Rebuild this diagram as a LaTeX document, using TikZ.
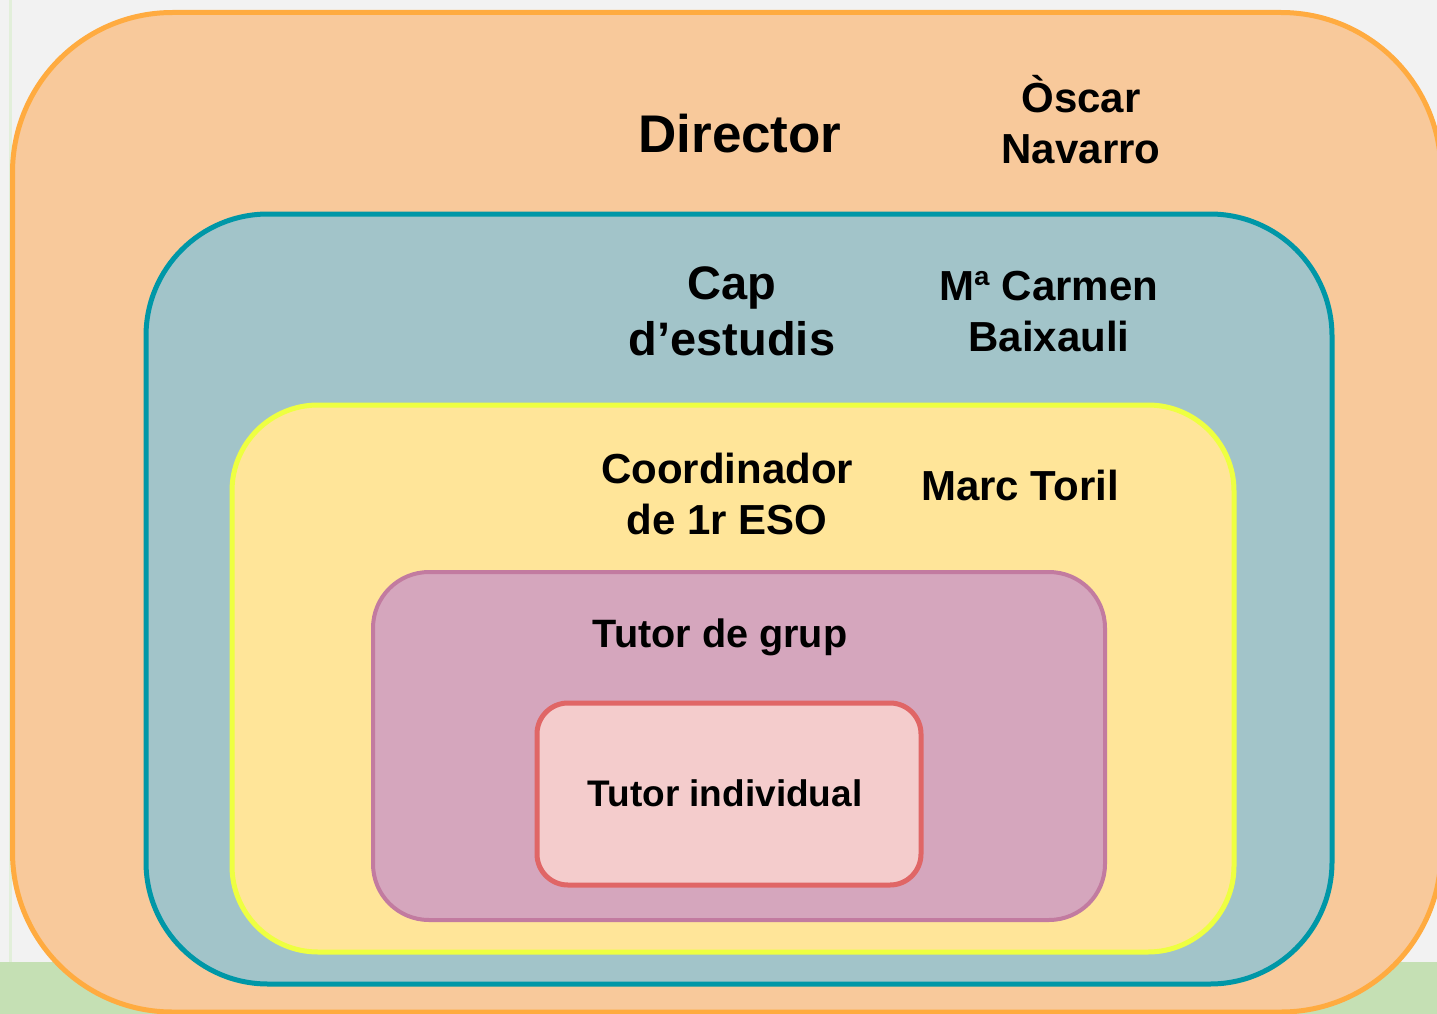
\documentclass[tikz,border=0pt]{standalone}
\usepackage{fontspec}
\setmainfont{Liberation Sans}
\usetikzlibrary{positioning}

\definecolor{fons}{HTML}{F2F2F2}
\definecolor{gespa}{HTML}{C5E0B4}
\definecolor{gespavora}{HTML}{E2EFDA}
\definecolor{taronja}{HTML}{F8C99B}
\definecolor{taronjavora}{HTML}{FFAB40}
\definecolor{blau}{HTML}{A2C4C9}
\definecolor{blauvora}{HTML}{0097A7}
\definecolor{groc}{HTML}{FFE599}
\definecolor{grocvora}{HTML}{EEFF41}
\definecolor{lila}{HTML}{D5A6BD}
\definecolor{lilavora}{HTML}{C27BA0}
\definecolor{rosa}{HTML}{F4CCCC}
\definecolor{rosavora}{HTML}{E06666}

\tikzset{
	nivell/.style={line width=5pt},
	etiq/.style={align=center, inner sep=0pt, font=\bfseries\fontsize{42}{51}\selectfont}
}

\begin{document}
\begin{tikzpicture}[x=1pt,y=-1pt]
	\useasboundingbox (0,0) rectangle (1437,1014);
	\clip (0,0) rectangle (1437,1014);
	\fill[fons] (0,0) rectangle (1437,1014);
	\fill[gespa] (0,962) rectangle (1437,1014);
	\draw[gespavora, line width=3pt] (10,0) -- (10,962);
	% caixes
	\draw[nivell, draw=taronjavora, fill=taronja, rounded corners=160pt] (12.5,12.5) rectangle (1441,1012);
	\draw[nivell, draw=blauvora, fill=blau, rounded corners=122pt] (146,214) rectangle (1332,984);
	\draw[nivell, draw=grocvora, fill=groc, rounded corners=86pt] (232,405) rectangle (1234,952);
	\draw[nivell, line width=4pt, draw=lilavora, fill=lila, rounded corners=56pt] (373,572) rectangle (1105,920);
	\draw[nivell, draw=rosavora, fill=rosa, rounded corners=31pt] (537,703) rectangle (921,885);
	% textos
	\node[etiq, font=\bfseries\fontsize{53}{60}\selectfont] (director) at (740,134) {Director};
	\node[etiq] (oscar) at (1081,120) {Òscar\\Navarro};
	\node[etiq, font=\bfseries\fontsize{47}{56}\selectfont] (cap) at (732,311) {Cap\\d’estudis};
	\node[etiq] (carmen) at (1049,312) {Mª Carmen\\Baixauli};
	\node[etiq] (coord) at (727,494) {Coordinador\\de 1r ESO};
	\node[etiq] (marc) at (1020,485) {Marc Toril};
	\node[etiq, font=\bfseries\fontsize{39.6}{46}\selectfont] (grup) at (720,637) {Tutor de grup};
	\node[etiq, font=\bfseries\fontsize{37}{44}\selectfont] (indiv) at (725,793) {Tutor individual};
\end{tikzpicture}
\end{document}
